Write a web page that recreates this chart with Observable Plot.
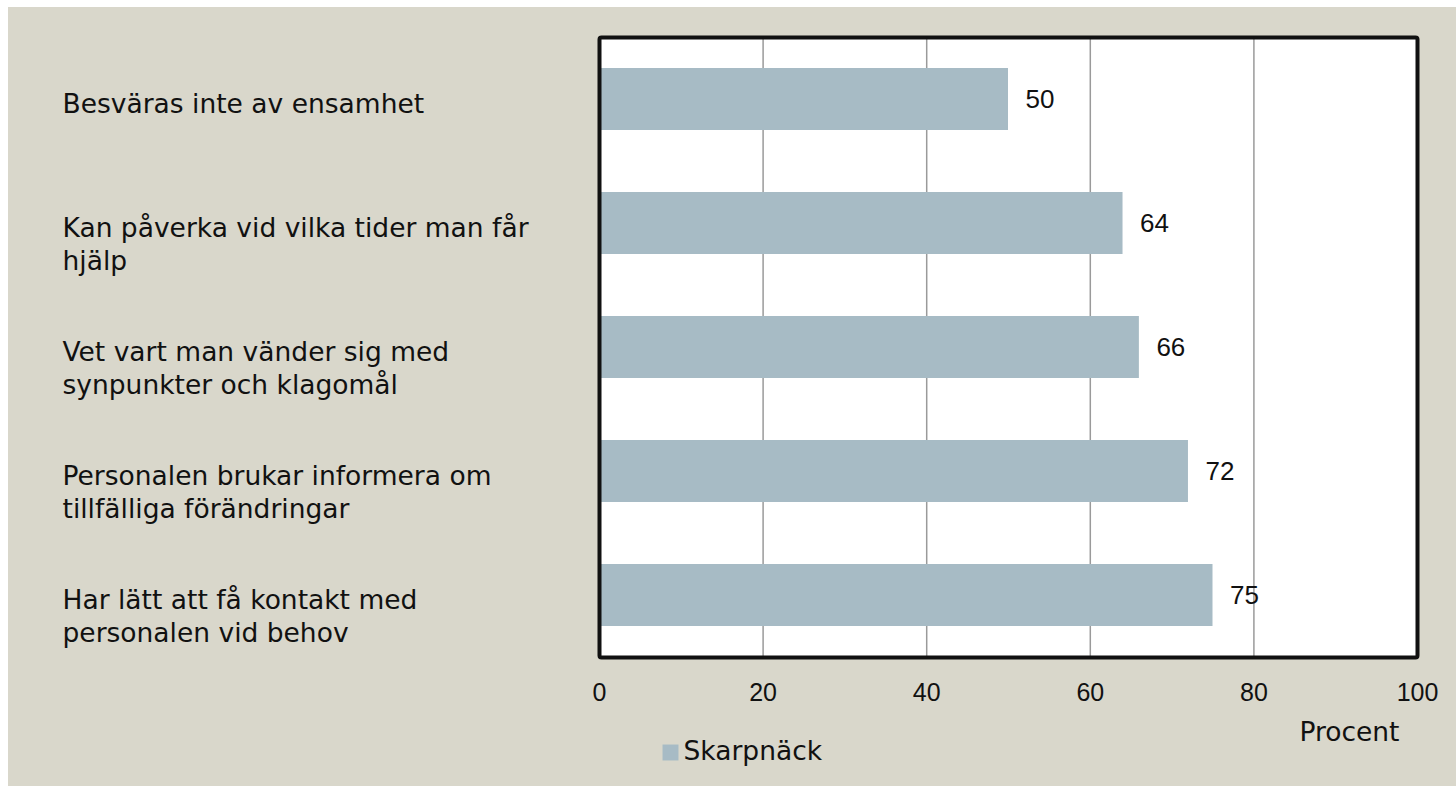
<!DOCTYPE html>
<html>
<head>
<meta charset="utf-8">
<script src="https://cdn.jsdelivr.net/npm/d3@7"></script>
<script src="https://cdn.jsdelivr.net/npm/@observablehq/plot@0.6"></script>
<style>
  html, body { margin: 0; padding: 0; background: #ffffff; }
  body { padding: 7px 0 0 8px; }
</style>
</head>
<body>
<div id="chart"></div>
<script>
const categories = [
  "Besväras inte av ensamhet",
  "Kan påverka vid vilka tider man får\nhjälp",
  "Vet vart man vänder sig med\nsynpunkter och klagomål",
  "Personalen brukar informera om\ntillfälliga förändringar",
  "Har lätt att få kontakt med\npersonalen vid behov"
];
const values = [50, 64, 66, 72, 75];
const xTicks = [0, 20, 40, 60, 80, 100];
const seriesName = "Skarpnäck";
const xLabel = "Procent";

const data = categories.map((c, i) => ({category: c, value: values[i]}));
const barColor = "#a7bbc5";
const labelFont = "DejaVu Sans";
const numFont = "Liberation Sans";

const chart = Plot.plot({
  width: 1448,
  height: 779,
  marginLeft: 591,
  marginRight: 39,
  marginTop: 30,
  marginBottom: 129,
  style: {background: "#d9d7cb", fontFamily: labelFont, overflow: "visible", color: "#111"},
  x: {domain: [0, 100], ticks: xTicks},
  y: {domain: categories, paddingInner: 0.5, paddingOuter: 0.25, axis: null},
  marks: [
    Plot.frame({fill: "white"}),
    Plot.gridX(xTicks.slice(1, -1), {stroke: "#9a9a9a", strokeOpacity: 1, strokeWidth: 1.5}),
    Plot.barX(data, {x: "value", y: "category", fill: barColor}),
    Plot.frame({stroke: "#111", strokeWidth: 4, rx: 2}),
    Plot.text(data, {x: "value", y: "category", text: d => String(d.value), dx: 17, textAnchor: "start", fontSize: 26, fontFamily: numFont, fill: "#111"}),
    Plot.text(data, {y: "category", text: "category", frameAnchor: "left", dx: -537, textAnchor: "start", lineAnchor: "top", dy: -10, lineHeight: 1.25, fontSize: 26.5, fill: "#111"}),
    Plot.axisX({ticks: xTicks, tickSize: 0, tickPadding: 26, fontSize: 25, fontFamily: numFont, label: null, fill: "#111"}),
    Plot.text([xLabel], {frameAnchor: "bottom-right", dx: -18, dy: 75, textAnchor: "end", lineAnchor: "middle", fontSize: 26.5, fill: "#111"}),
    Plot.dot([seriesName], {frameAnchor: "bottom-left", dx: 71, dy: 95, symbol: "square", r: 9, fill: barColor, stroke: null}),
    Plot.text([seriesName], {frameAnchor: "bottom-left", dx: 84, dy: 94, textAnchor: "start", lineAnchor: "middle", fontSize: 26.5, fill: "#111"})
  ]
});
document.getElementById("chart").appendChild(chart);
</script>
</body>
</html>
